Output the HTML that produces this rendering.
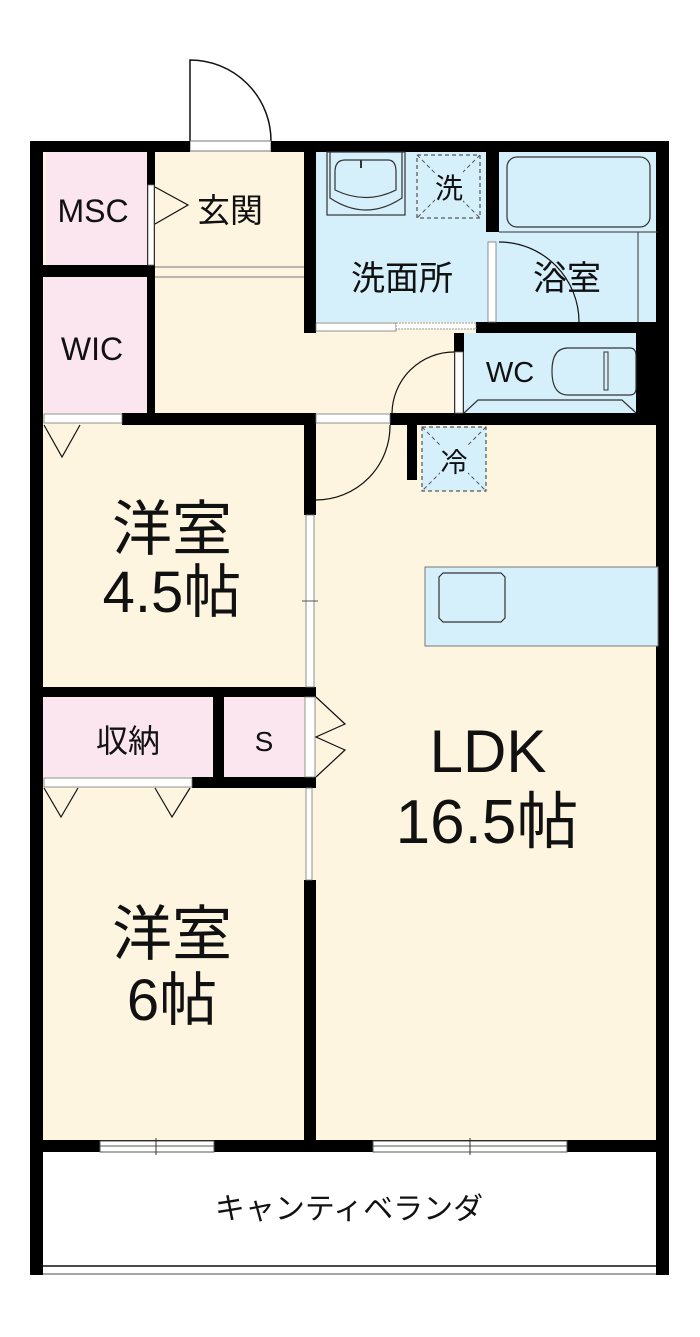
<!DOCTYPE html>
<html><head><meta charset="utf-8"><style>
html,body{margin:0;padding:0;background:#fff;}
svg{display:block}
text{font-family:"Liberation Sans","Noto Sans CJK JP",sans-serif;fill:#111;text-anchor:middle}
</style></head><body>
<svg width="700" height="1337" viewBox="0 0 700 1337" xmlns="http://www.w3.org/2000/svg">
<rect x="42" y="150" width="620" height="995" fill="#fdf5e0"/>
<rect x="46" y="152" width="101" height="113" fill="#fbe6ef"/>
<rect x="44" y="277" width="103" height="136" fill="#fbe6ef"/>
<rect x="316" y="152" width="342" height="170" fill="#d5effb"/>
<rect x="464" y="333" width="172" height="80" fill="#d5effb"/>
<rect x="42" y="697" width="171" height="80" fill="#fbe6ef"/>
<rect x="224" y="697" width="80" height="80" fill="#fbe6ef"/>
<rect x="44" y="1150" width="614" height="115" fill="#fff"/>

<path d="M190 141 V60 A81 81 0 0 1 271 141" fill="none" stroke="#111" stroke-width="1.5"/>
<rect x="190" y="141" width="81" height="10" fill="#fff" stroke="#777" stroke-width="1"/>

<g fill="#000">
<rect x="30" y="141" width="160" height="11"/>
<rect x="271" y="141" width="398" height="11"/>
<rect x="30" y="141" width="13" height="1134"/>
<rect x="656" y="141" width="13" height="1134"/>
<rect x="636" y="322" width="33" height="91"/>
<rect x="147" y="152" width="8" height="261"/>
<rect x="30" y="265" width="125" height="12"/>
<rect x="304" y="152" width="12" height="181"/>
<rect x="486" y="152" width="13" height="80"/>
<rect x="476" y="322" width="193" height="11"/>
<rect x="454" y="333" width="10" height="80"/>
<rect x="122" y="413" width="194" height="12"/>
<rect x="390" y="413" width="279" height="12"/>
<rect x="304" y="413" width="12" height="102"/>
<rect x="407" y="425" width="10" height="55"/>
<rect x="30" y="687" width="286" height="10"/>
<rect x="213" y="697" width="11" height="80"/>
<rect x="192" y="777" width="124" height="11"/>
<rect x="304" y="880" width="12" height="270"/>
<rect x="30" y="1140" width="639" height="12"/>
</g>
<rect x="148" y="185" width="6" height="80" fill="#fff" stroke="#777" stroke-width="0.8"/>
<path d="M155 187 L188 205 L155 224" fill="none" stroke="#111" stroke-width="1.2"/>
<line x1="155" y1="267" x2="304" y2="267" stroke="#777"/>
<line x1="155" y1="277" x2="304" y2="277" stroke="#777"/>
<rect x="327" y="152" width="78" height="63" fill="none" stroke="#333" stroke-width="1.2"/>
<path d="M330 152 V198 Q366 222 402 198 V152" fill="none" stroke="#333" stroke-width="1.2"/>
<path d="M335 172 Q335 160 345 160 H388 Q396 160 396 172 V190 Q366 205 335 190 Z" fill="none" stroke="#333" stroke-width="1.2"/>
<line x1="361" y1="160" x2="361" y2="168" stroke="#333" stroke-width="2"/>
<rect x="417" y="155" width="63" height="63" fill="none" stroke="#333" stroke-dasharray="4 3"/>
<line x1="417" y1="155" x2="480" y2="218" stroke="#555" stroke-dasharray="4 3"/>
<line x1="480" y1="155" x2="417" y2="218" stroke="#555" stroke-dasharray="4 3"/>
<rect x="435" y="170" width="28" height="32" fill="#d5effb"/>
<text x="449" y="198" font-size="28">洗</text>
<line x1="499" y1="232" x2="658" y2="232" stroke="#333"/>
<rect x="507" y="157" width="143" height="70" rx="10" fill="none" stroke="#333" stroke-width="1.2"/>
<line x1="638" y1="232" x2="638" y2="322" stroke="#333"/>
<rect x="488" y="242" width="8" height="80" fill="#fff" stroke="#777" stroke-width="0.8"/>
<path d="M499 242 A80 80 0 0 1 579 322" fill="none" stroke="#111" stroke-width="1.2"/>
<rect x="316" y="323" width="80" height="8" fill="#fff" stroke="#777" stroke-width="0.8"/>
<rect x="396" y="323" width="80" height="6" fill="#fff" stroke="#777" stroke-width="0.8" stroke-dasharray="2 1"/>
<rect x="455" y="352" width="8" height="61" fill="#fff" stroke="#777" stroke-width="0.8"/>
<path d="M454 352 A62 62 0 0 0 392 413" fill="none" stroke="#111" stroke-width="1.2"/>
<path d="M568 348 H630 Q636 348 636 356 V388 Q636 395 630 395 H568 Q552 395 552 371 Q552 348 568 348 Z" fill="none" stroke="#333" stroke-width="1.2"/>
<rect x="604" y="352" width="4" height="38" fill="none" stroke="#333"/>
<path d="M464 413 L478 400 H622 L636 413" fill="none" stroke="#333" stroke-width="1.2"/>
<rect x="44" y="414" width="78" height="9" fill="#fff" stroke="#777" stroke-width="0.8"/>
<rect x="316" y="414" width="74" height="9" fill="#fff" stroke="#777" stroke-width="0.8"/>
<path d="M44 425 L62 457 L80 425" fill="none" stroke="#111" stroke-width="1.2"/>
<path d="M390 425 A74 74 0 0 1 316 500" fill="none" stroke="#111" stroke-width="1.2"/>
<rect x="422" y="427" width="64" height="64" fill="#d5effb" stroke="#333" stroke-dasharray="4 3"/>
<line x1="422" y1="427" x2="486" y2="491" stroke="#555" stroke-dasharray="4 3"/>
<line x1="486" y1="427" x2="422" y2="491" stroke="#555" stroke-dasharray="4 3"/>
<rect x="440" y="444" width="28" height="32" fill="#d5effb"/>
<text x="454" y="472" font-size="27">冷</text>
<rect x="306" y="515" width="8" height="172" fill="#fff" stroke="#777" stroke-width="0.8"/>
<line x1="302" y1="601" x2="318" y2="601" stroke="#555"/>
<rect x="425" y="567" width="233" height="79" fill="#d5effb" stroke="#777" stroke-width="1"/>
<path d="M443 573 H501 L505 577 V618 L501 622 H443 L439 618 V577 Z" fill="none" stroke="#333" stroke-width="1.2"/>
<rect x="305" y="697" width="10" height="80" fill="#fff" stroke="#777" stroke-width="0.8"/>
<path d="M316 697 L345 724 L316 737 L345 750 L316 777" fill="none" stroke="#111" stroke-width="1.2"/>
<rect x="44" y="778" width="148" height="9" fill="#fff" stroke="#777" stroke-width="0.8"/>
<path d="M44 788 L61 817 L78 788 M155 788 L172 817 L190 788" fill="none" stroke="#111" stroke-width="1.2"/>
<rect x="306" y="788" width="6" height="92" fill="#fff" stroke="#777" stroke-width="0.8"/>
<rect x="100" y="1141" width="114" height="11" fill="#fff" stroke="#555" stroke-width="1"/>
<line x1="100" y1="1146" x2="214" y2="1146" stroke="#555"/>
<line x1="156" y1="1138" x2="156" y2="1155" stroke="#333"/>
<rect x="373" y="1141" width="194" height="11" fill="#fff" stroke="#555" stroke-width="1"/>
<line x1="373" y1="1146" x2="567" y2="1146" stroke="#555"/>
<line x1="470" y1="1138" x2="470" y2="1155" stroke="#333"/>
<line x1="43" y1="1266" x2="656" y2="1266" stroke="#111" stroke-width="1.5"/>
<line x1="43" y1="1274" x2="656" y2="1274" stroke="#888" stroke-width="1.5"/>

<text x="93" y="222" font-size="32">MSC</text>
<text x="230" y="222" font-size="33">玄関</text>
<text x="402" y="290" font-size="34">洗面所</text>
<text x="567" y="290" font-size="34">浴室</text>
<text x="92" y="360" font-size="32">WIC</text>
<text x="510" y="382" font-size="29">WC</text>
<text x="172" y="550" font-size="60">洋室</text>
<text x="172" y="612" font-size="58">4.5帖</text>
<text x="128" y="752" font-size="32">収納</text>
<text x="264" y="751" font-size="28">S</text>
<text x="488" y="772" font-size="60">LDK</text>
<text x="487" y="843" font-size="62">16.5帖</text>
<text x="172" y="955" font-size="60">洋室</text>
<text x="172" y="1020" font-size="58">6帖</text>
<text x="349" y="1219" font-size="30">キャンティベランダ</text>
</svg>
</body></html>
